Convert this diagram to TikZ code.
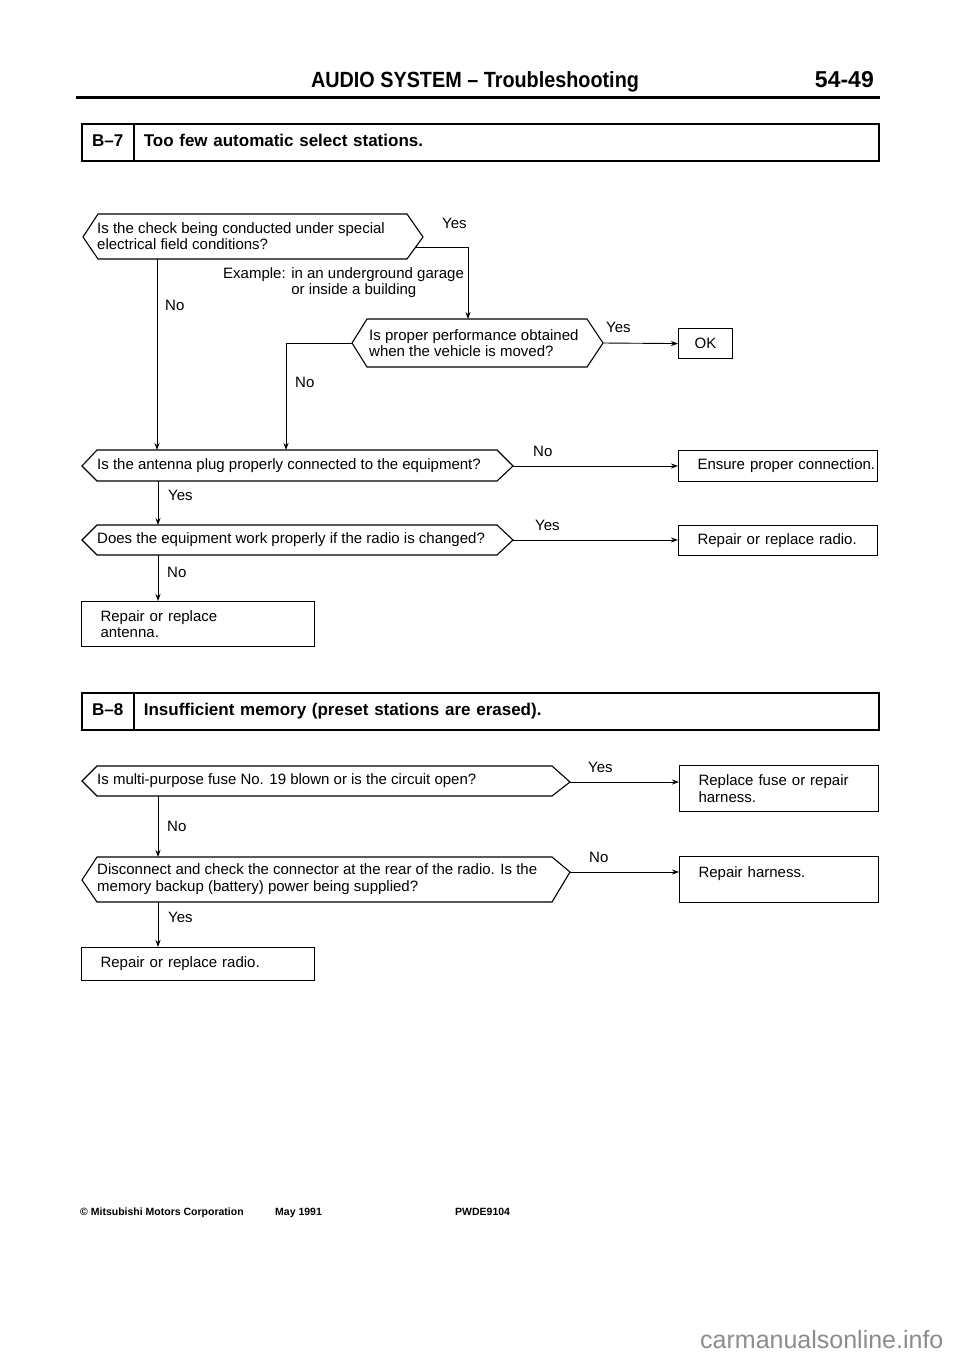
\documentclass[tikz,border=0pt]{standalone}
\usepackage{fontspec}
\setmainfont{Liberation Sans}
\usetikzlibrary{arrows.meta}
\newcommand\qfont{\fontsize{15}{16.5}\selectfont}
\newcommand\hfont{\fontsize{17}{20}\selectfont\bfseries}
\newcommand\ind{\hspace*{17pt}}
\newcommand\qhex[8]{\draw[outl] (#1,#8) -- (#2,#5) -- (#3,#5) -- (#4,#6) -- (#3,#7) -- (#2,#7) -- cycle;}
\tikzset{
  qtxt/.style={inner sep=0pt, anchor=west, align=left, font=\qfont},
  lbl/.style={inner sep=0pt, anchor=base west, font=\qfont},
  outl/.style={line width=1.1pt, line join=miter},
  conn/.style={line width=0.9pt},
  arr/.style={conn, -{Stealth[length=7pt,width=5pt]}},
  rbox/.style={draw, outl, anchor=north west, inner ysep=0pt, inner xsep=2pt, align=left, font=\qfont},
  hcell/.style={draw, line width=1.6pt, anchor=north west, minimum height=37pt, inner sep=0pt,
                text height=12pt, text depth=3pt, font=\hfont},
  foot/.style={inner sep=0pt, anchor=base west, font=\fontsize{10.5}{12}\selectfont\bfseries},
}
\begin{document}
\begin{tikzpicture}[x=1pt,y=-1pt]
\useasboundingbox (0,0) rectangle (960,1358);
\fill[white] (0,0) rectangle (960,1358);

% ---------- page header ----------
\node[inner sep=0pt, anchor=base] (title) at (475,87)
  {\scalebox{0.9}[1]{\fontsize{22}{24}\selectfont\bfseries AUDIO SYSTEM -- Troubleshooting}};
\node[inner sep=0pt, anchor=base east] (pageno) at (874,87)
  {\fontsize{23}{25}\selectfont\bfseries 54-49};
\coordinate (ruleL) at (76,97);
\coordinate (ruleR) at (880,97);
\draw[line width=3pt] (ruleL) -- (ruleR);

% ---------- B-7 ----------
\node[hcell, minimum width=52pt] (b7code) at (81,123) {B--7};
\node[hcell, minimum width=745pt, text width=725pt, inner xsep=10pt, align=left] (b7title) at (133,123)
  {Too few automatic select stations.};

% Q1
\qhex{83}{98}{407}{423}{214}{237}{259}{237}
\node[qtxt] (q1) at (97,236) {Is the check being conducted under special\\electrical field conditions?};
\coordinate (q1Y) at (416,247);
\coordinate (q1S) at (157,259);
\node[lbl] (q1yes) at (442,228) {Yes};
\node[qtxt, anchor=north west] (ex) at (223,267) {Example: in an underground garage\\\hphantom{Example: }or inside a building};
\node[lbl] (q1no) at (165,310) {No};

% Q2
\qhex{352}{367}{587}{603}{319}{343}{367}{343}
\node[qtxt] (q2) at (369,343) {Is proper performance obtained\\when the vehicle is moved?};
\coordinate (q2N) at (468,319);
\coordinate (q2E) at (603,343);
\coordinate (q2W) at (352,343);
\node[lbl] (q2yes) at (606,332) {Yes};
\node[draw, outl, anchor=north west, minimum width=54pt, minimum height=30pt, inner sep=0pt, font=\qfont] (ok) at (678,328) {OK};
\node[lbl] (q2no) at (295,387) {No};

% Q3
\qhex{82}{97}{497}{513}{450}{466}{481}{466}
\node[qtxt] (q3) at (97,466) {Is the antenna plug properly connected to the equipment?};
\coordinate (q3N1) at (157,450);
\coordinate (q3N2) at (286,450);
\coordinate (q3E) at (513,466);
\coordinate (q3S) at (158,481);
\node[lbl] (q3no) at (533,456) {No};
\node[rbox, text width=195pt, minimum height=31pt] (ensure) at (678,450) {\ind Ensure proper connection.};
\node[lbl] (q3yes) at (168,500) {Yes};

% Q4
\qhex{82}{97}{497}{513}{525}{540}{555}{540}
\node[qtxt] (q4) at (97,540) {Does the equipment work properly if the radio is changed?};
\coordinate (q4N) at (158,525);
\coordinate (q4E) at (513,540);
\coordinate (q4S) at (158,555);
\node[lbl] (q4yes) at (535,530) {Yes};
\node[rbox, text width=195pt, minimum height=30pt] (radioA) at (678,525) {\ind Repair or replace radio.};
\node[lbl] (q4no) at (167,577) {No};
\node[rbox, text width=229pt, minimum height=45pt] (antenna) at (81,601) {\ind Repair or replace\\\ind antenna.};

% ---------- B-8 ----------
\node[hcell, minimum width=52pt] (b8code) at (81,692) {B--8};
\node[hcell, minimum width=745pt, text width=725pt, inner xsep=10pt, align=left] (b8title) at (133,692)
  {Insufficient memory (preset stations are erased).};

% Q5
\qhex{82}{97}{552}{570}{766}{782}{796}{781}
\node[qtxt] (q5) at (97,781) {Is multi-purpose fuse No. 19 blown or is the circuit open?};
\coordinate (q5E) at (570,782);
\coordinate (q5S) at (158,796);
\node[lbl] (q5yes) at (588,772) {Yes};
\node[rbox, text width=195pt, minimum height=46pt] (fuse) at (679,765) {\ind Replace fuse or repair\\\ind harness.};
\node[lbl] (q5no) at (167,831) {No};

% Q6
\qhex{82}{97}{552}{570}{857}{872}{902}{880}
\node[qtxt] (q6) at (97,879) {Disconnect and check the connector at the rear of the radio. Is the\\memory backup (battery) power being supplied?};
\coordinate (q6N) at (158,857);
\coordinate (q6E) at (570,872);
\coordinate (q6S) at (158,902);
\node[lbl] (q6no) at (589,862) {No};
\node[rbox, text width=195pt, text height=16pt, text depth=20pt, inner ysep=5pt] (harness) at (679,856) {\ind Repair harness.};
\node[lbl] (q6yes) at (168,922) {Yes};
\node[rbox, text width=229pt, minimum height=33pt] (radioB) at (81,947) {\ind Repair or replace radio.};

% ---------- connectors ----------
\draw[arr] (q1Y) -| (q2N);
\draw[arr] (q1S) -- (q3N1);
\draw[arr] (q2E) -- (ok.west);
\draw[arr] (q2W) -| (q3N2);
\draw[arr] (q3E) -- (q3E -| ensure.west);
\draw[arr] (q3S) -- (q4N);
\draw[arr] (q4E) -- (q4E -| radioA.west);
\draw[arr] (q4S) -- (q4S |- antenna.north);
\draw[arr] (q5E) -- (q5E -| fuse.west);
\draw[arr] (q5S) -- (q6N);
\draw[arr] (q6E) -- (q6E -| harness.west);
\draw[arr] (q6S) -- (q6S |- radioB.north);

% ---------- footer ----------
\node[foot] (copy) at (80,1215) {\char"00A9\ Mitsubishi Motors Corporation};
\node[foot] (date) at (275,1215) {May 1991};
\node[foot] (code) at (455,1215) {PWDE9104};
\node[inner sep=0pt, anchor=base west, text=black!45, font=\fontsize{25}{27}\selectfont] (wm) at (700,1348) {carmanualsonline.info};
\end{tikzpicture}
\end{document}
